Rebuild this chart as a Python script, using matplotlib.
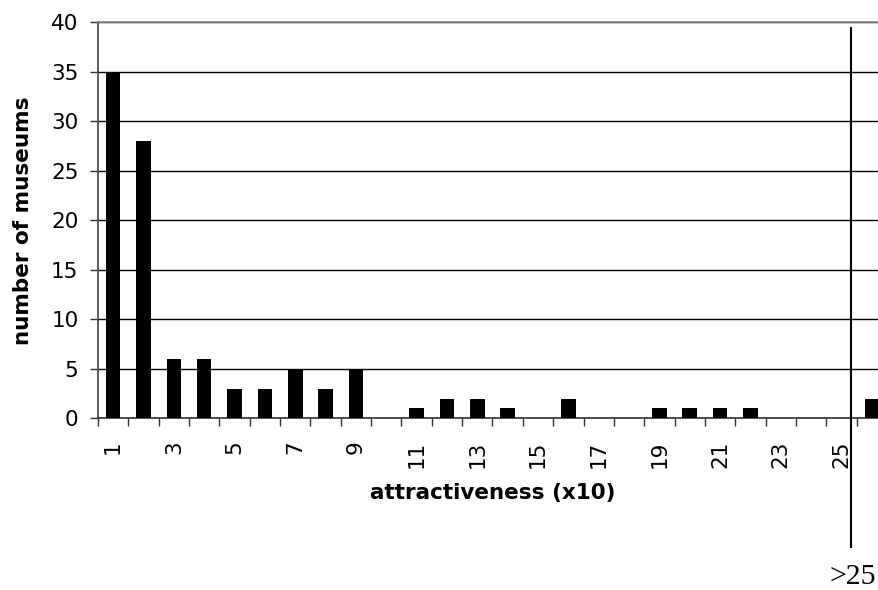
import matplotlib
matplotlib.use("Agg")
import matplotlib.pyplot as plt
import matplotlib.transforms as mtransforms

categories = list(range(1, 27))  # 26 represents ">25"
counts = [35, 28, 6, 6, 3, 3, 5, 3, 5, 0, 1, 2, 2, 1, 0, 2, 0, 0, 1, 1, 1, 1, 0, 0, 0, 2]
tick_labels = [str(c) if c % 2 == 1 else "" for c in categories]
y_ticks = [0, 5, 10, 15, 20, 25, 30, 35, 40]

plt.rcParams['font.family'] = ['DejaVu Sans']

fig = plt.figure(figsize=(8.79, 5.90), dpi=100)
ax = fig.add_axes([98 / 879, 171.7 / 590, 789 / 879, 396 / 590])

x = list(range(len(categories)))
ax.bar(x, counts, width=0.48, color='black', zorder=3)

ax.set_xlim(-0.5, len(categories) - 0.5)
ax.set_ylim(0, 40)
ax.set_yticks(y_ticks)
ax.set_yticklabels([str(v) for v in y_ticks], fontsize=15.5)
ax.tick_params(axis='y', direction='out', length=6, width=1, color='#333333', pad=8)
ax.yaxis.grid(True, color='black', linewidth=1, zorder=0)

# category boundaries as major ticks, labels at centres as minor ticks
ax.set_xticks([i - 0.5 for i in range(len(categories) + 1)])
ax.set_xticklabels([])
ax.tick_params(axis='x', which='major', direction='out', length=6, width=1, color='#333333')
ax.set_xticks(x, minor=True)
ax.set_xticklabels(tick_labels, minor=True, rotation=90, fontsize=15.5, va='top', ha='center')
ax.tick_params(axis='x', which='minor', length=0, pad=16)

ax.spines['right'].set_visible(False)
ax.spines['top'].set_color('#888888')
ax.spines['top'].set_linewidth(1.2)
ax.spines['left'].set_color('#444444')
ax.spines['bottom'].set_color('#333333')
ax.spines['left'].set_linewidth(1.2)
ax.spines['bottom'].set_linewidth(1.2)

ax.set_ylabel('number of museums', fontsize=15.5, fontweight='bold')
ax.yaxis.set_label_coords((33 - 98) / 789, 0.5)
ax.set_xlabel('attractiveness (x10)', fontsize=15.5, fontweight='bold')
ax.xaxis.set_label_coords(0.5, (418.3 - 483) / 396)

# separator line before ">25"
trans = mtransforms.blended_transform_factory(ax.transData, fig.transFigure)
ax.plot([24.3, 24.3], [1 - 28 / 590, 1 - 547 / 590], color='black', linewidth=1.5,
        transform=trans, clip_on=False, zorder=5)
fig.text(853 / 879, 1 - 577 / 590, '>25', family='Liberation Serif', fontsize=21.5,
         ha='center', va='center')

fig.savefig('out.png', dpi=100)
